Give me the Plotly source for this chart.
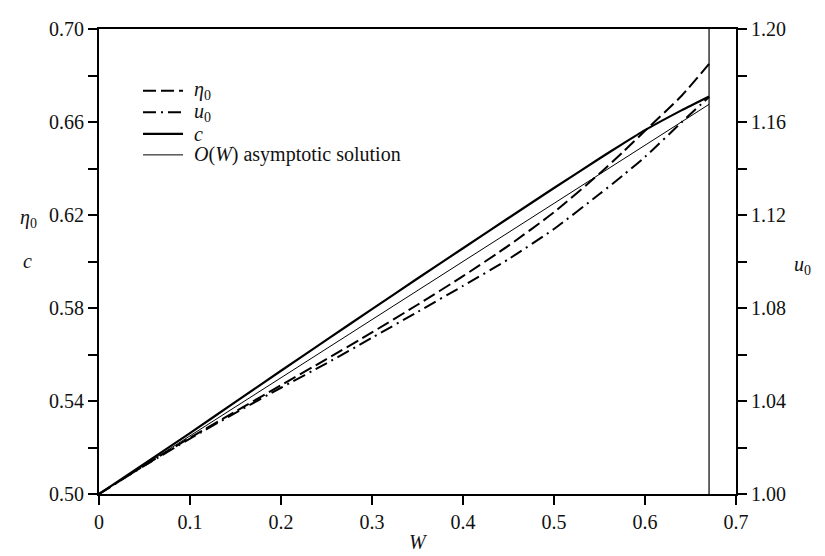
import plotly.graph_objects as go

# ---- data ----
W = [0, 0.05, 0.1, 0.15, 0.2, 0.25, 0.3, 0.35, 0.4, 0.45, 0.5, 0.55, 0.575, 0.6, 0.64, 0.6704]
eta0 = [0.5, 0.5123, 0.5242, 0.5355, 0.5468, 0.5580, 0.5695, 0.5814, 0.5937, 0.6068,
        0.6212, 0.6378, 0.6468, 0.6562, 0.6712, 0.6850]
u0 = [1.0, 1.0122, 1.0238, 1.0349, 1.0457, 1.0562, 1.0672, 1.0783, 1.0895, 1.1010,
      1.1140, 1.1290, 1.1368, 1.1450, 1.1598, 1.1708]
c = [0.5, 0.5130, 0.5262, 0.5396, 0.5530, 0.5663, 0.5795, 0.5927, 0.6057, 0.6187,
     0.6316, 0.6443, 0.6505, 0.6565, 0.6650, 0.6710]
W_asym = [0, 0.6704]
c_asym = [0.5, 0.6676]
W_max = 0.6704

legend_names = ["<i>η</i><sub>0</sub>", "<i>u</i><sub>0</sub>", "<i>c</i>",
                "<i>O</i>(<i>W</i>) asymptotic solution"]

FONT = "Liberation Serif"
INK = "#000"
TXT = "#111"

styles = [
    dict(color=INK, width=2, dash="13px,5px"),
    dict(color=INK, width=2, dash="13px,5px,2px,5px"),
    dict(color=INK, width=2.2),
    dict(color=INK, width=1),
]

fig = go.Figure()
fig.add_trace(go.Scatter(x=W, y=eta0, mode="lines", name=legend_names[0], showlegend=False,
                         line=dict(shape="spline", smoothing=0.6, **styles[0])))
fig.add_trace(go.Scatter(x=W, y=u0, mode="lines", name=legend_names[1], yaxis="y2", showlegend=False,
                         line=dict(shape="spline", smoothing=0.6, **styles[1])))
fig.add_trace(go.Scatter(x=W, y=c, mode="lines", name=legend_names[2], showlegend=False,
                         line=dict(shape="spline", smoothing=0.6, **styles[2])))
fig.add_trace(go.Scatter(x=W_asym, y=c_asym, mode="lines", name=legend_names[3], showlegend=False,
                         line=styles[3]))

fig.add_shape(type="line", xref="x", yref="paper", x0=W_max, x1=W_max, y0=0, y1=1,
              line=dict(color=INK, width=1.2))

# hand-placed legend (line samples + labels) in the upper-left of the plot
leg_rows = [0.8674, 0.8212, 0.7744, 0.7293]
annotations = []
for name, st, yy in zip(legend_names, styles, leg_rows):
    fig.add_shape(type="line", xref="paper", yref="paper", x0=0.0691, x1=0.1319, y0=yy, y1=yy,
                  line=st)
    annotations.append(dict(text=name, x=0.146, y=yy, xref="paper", yref="paper",
                            xanchor="left", yanchor="middle", showarrow=False,
                            font=dict(family=FONT, size=20, color=TXT)))

annotations += [
    dict(text="<i>η</i><sub>0</sub>", x=-0.11, y=0.592, xref="paper", yref="paper",
         xanchor="center", yanchor="middle", showarrow=False,
         font=dict(family=FONT, size=20, color=TXT)),
    dict(text="c", x=-0.113, y=0.5016, xref="paper", yref="paper",
         xanchor="center", yanchor="middle", showarrow=False,
         font=dict(family=FONT, size=20, color=TXT, style="italic")),
    dict(text="<i>u</i><sub>0</sub>", x=1.105, y=0.491, xref="paper", yref="paper",
         xanchor="center", yanchor="middle", showarrow=False,
         font=dict(family=FONT, size=20, color=TXT)),
    dict(text="W", x=0.5008, y=-0.103, xref="paper", yref="paper",
         xanchor="center", yanchor="middle", showarrow=False,
         font=dict(family=FONT, size=20, color=TXT, style="italic")),
]

axis_common = dict(showgrid=False, zeroline=False, showline=True, linecolor=INK, linewidth=2,
                   ticks="outside", ticklen=9, tickwidth=2, tickcolor=INK,
                   tickfont=dict(family=FONT, size=20, color=TXT))

fig.update_layout(
    width=817, height=548, autosize=False,
    margin=dict(l=91, r=89, t=10, b=62),
    plot_bgcolor="white", paper_bgcolor="white",
    font=dict(family=FONT, size=20, color=TXT),
    xaxis=dict(range=[0, 0.7], dtick=0.1, tick0=0, mirror=True, **axis_common),
    yaxis=dict(range=[0.5, 0.7], dtick=0.04, tick0=0.5, tickformat=".2f",
               minor=dict(dtick=0.02, ticks="outside", ticklen=9, tickwidth=2, tickcolor=INK),
               **axis_common),
    yaxis2=dict(range=[1.0, 1.2], dtick=0.04, tick0=1.0, tickformat=".2f", overlaying="y", side="right",
                minor=dict(dtick=0.02, ticks="outside", ticklen=9, tickwidth=2, tickcolor=INK),
                **axis_common),
    showlegend=False,
    annotations=annotations,
)

fig.write_html("out.html")
